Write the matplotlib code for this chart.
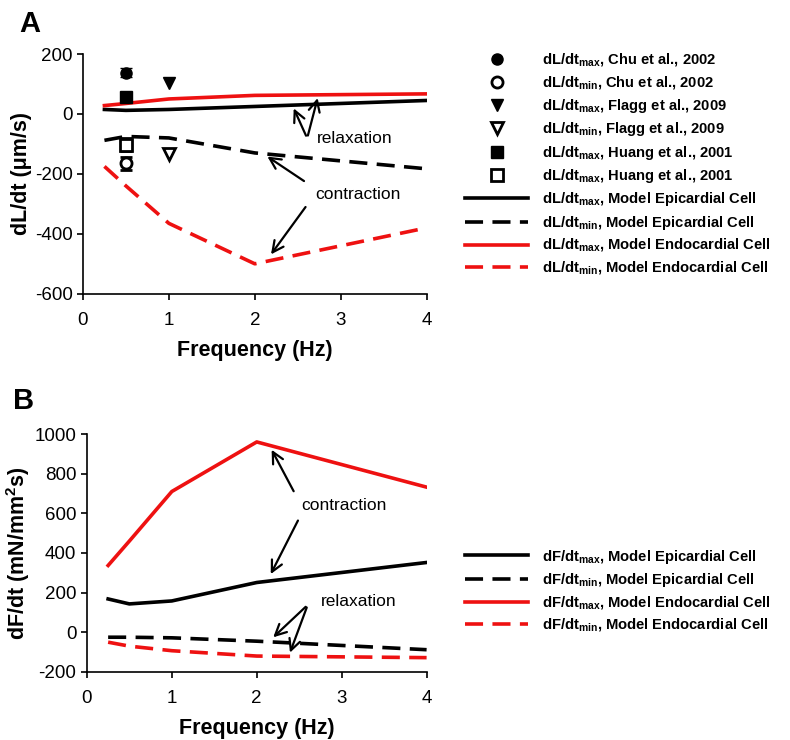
import numpy as np
import matplotlib
matplotlib.use("Agg")
import matplotlib.pyplot as plt
from matplotlib.lines import Line2D

plt.rcParams['font.family'] = ['Liberation Sans', 'DejaVu Sans']
plt.rcParams['mathtext.fontset'] = 'custom'
plt.rcParams['mathtext.rm'] = 'Liberation Sans:bold'
plt.rcParams['mathtext.bf'] = 'Liberation Sans:bold'
plt.rcParams['axes.unicode_minus'] = False

# ---- data, panel A (dL/dt, um/s)
freq = [0.25, 0.5, 1, 2, 4]
epi_dl_max = [15, 12, 15, 25, 45]
epi_dl_min = [-88, -75, -80, -130, -183]
endo_dl_max = [28, 35, 50, 62, 67]
endo_dl_min = [-175, -240, -365, -500, -380]

# experimental points
chu_max, chu_max_err = 138, 15
chu_min, chu_min_err = -164, 22
flagg_max = 102
flagg_min = -133
huang_max = 58
huang_min, huang_min_err = -103, 22

# ---- data, panel B (dF/dt, mN/mm^2 s)
epi_df_max = [168, 143, 158, 251, 352]
epi_df_min = [-25, -25, -28, -45, -88]
endo_df_max = [337, 460, 710, 960, 732]
endo_df_min = [-50, -70, -93, -120, -128]

DASH = (5, 2.6)
LW = 2.6

fig = plt.figure(figsize=(7.9, 7.4), dpi=100)
axA = fig.add_axes([0.105, 0.603, 0.435, 0.324])
axB = fig.add_axes([0.110, 0.092, 0.430, 0.3215])


def style(ax):
    ax.spines['top'].set_visible(False)
    ax.spines['right'].set_visible(False)
    ax.spines['left'].set_linewidth(1.2)
    ax.spines['bottom'].set_linewidth(1.2)
    ax.tick_params(direction='out', length=4, width=1.2, labelsize=13.5)
    ax.tick_params(axis='x', pad=9)
    ax.set_xlim(0, 4)
    ax.set_xticks([0, 1, 2, 3, 4])
    ax.set_xlabel('Frequency (Hz)', fontsize=15.5, fontweight='bold', labelpad=8)


# ---------------- panel A
axA.plot(freq, epi_dl_max, color='k', lw=LW)
axA.plot(freq, epi_dl_min, color='k', lw=LW, dashes=DASH)
axA.plot(freq, endo_dl_max, color='#ee1111', lw=LW)
axA.plot(freq, endo_dl_min, color='#ee1111', lw=LW, dashes=DASH)

ms = 8
axA.errorbar(0.5, chu_max, yerr=chu_max_err, fmt='o', color='k', ms=ms, capsize=4, elinewidth=1.5)
axA.errorbar(0.5, chu_min, yerr=chu_min_err, fmt='o', color='k', mfc='white', mew=2, ms=ms, capsize=4, elinewidth=1.5)
axA.plot(1, flagg_max, 'v', color='k', ms=ms + 1)
axA.plot(1, flagg_min, 'v', color='k', mfc='white', mew=2, ms=ms)
axA.plot(0.5, huang_max, 's', color='k', ms=ms)
axA.errorbar(0.5, huang_min, yerr=huang_min_err, fmt='s', color='k', mfc='white', mew=2, ms=ms, capsize=4, elinewidth=1.5)

axA.set_ylim(-600, 200)
axA.set_yticks([-600, -400, -200, 0, 200])
axA.set_ylabel('dL/dt (\u03bcm/s)', fontsize=15.5, fontweight='bold', labelpad=2)
style(axA)

aprops = dict(arrowstyle='->', color='k', lw=1.6, mutation_scale=20)
axA.text(2.72, -83, 'relaxation', fontsize=12.5, va='center')
axA.annotate('', xy=(2.44, 27), xytext=(2.61, -81), arrowprops=aprops)
axA.annotate('', xy=(2.74, 62), xytext=(2.61, -81), arrowprops=aprops)
axA.text(2.7, -270, 'contraction', fontsize=12.5, va='center')
axA.annotate('', xy=(2.12, -137), xytext=(2.6, -229), arrowprops=aprops)
axA.annotate('', xy=(2.17, -476), xytext=(2.61, -303), arrowprops=aprops)

fig.text(0.024, 0.987, 'A', fontsize=21, fontweight='bold', va='top')

handlesA = [
    Line2D([], [], ls='none', marker='o', color='k', ms=ms),
    Line2D([], [], ls='none', marker='o', color='k', mfc='white', mew=2, ms=ms),
    Line2D([], [], ls='none', marker='v', color='k', ms=ms + 1),
    Line2D([], [], ls='none', marker='v', color='k', mfc='white', mew=2, ms=ms),
    Line2D([], [], ls='none', marker='s', color='k', ms=ms),
    Line2D([], [], ls='none', marker='s', color='k', mfc='white', mew=2, ms=ms),
    Line2D([], [], color='k', lw=LW),
    Line2D([], [], color='k', lw=LW, dashes=DASH),
    Line2D([], [], color='#ee1111', lw=LW),
    Line2D([], [], color='#ee1111', lw=LW, dashes=DASH),
]
mx = r'$_{\mathbf{max}}$'
mn = r'$_{\mathbf{min}}$'
labelsA = [
    'dL/dt' + mx + ', Chu et al., 2002',
    'dL/dt' + mn + ', Chu et al., 2002',
    'dL/dt' + mx + ', Flagg et al., 2009',
    'dL/dt' + mn + ', Flagg et al., 2009',
    'dL/dt' + mx + ', Huang et al., 2001',
    'dL/dt' + mx + ', Huang et al., 2001',
    'dL/dt' + mx + ', Model Epicardial Cell',
    'dL/dt' + mn + ', Model Epicardial Cell',
    'dL/dt' + mx + ', Model Endocardial Cell',
    'dL/dt' + mn + ', Model Endocardial Cell',
]
leg_kw = dict(loc='upper left', frameon=False, handlelength=4.3, handletextpad=0.95,
              labelspacing=0.36, prop={'weight': 'bold', 'size': 10.6}, borderaxespad=0)
fig.legend(handlesA, labelsA, bbox_to_anchor=(0.581, 0.938), **leg_kw)

# ---------------- panel B
axB.plot(freq, epi_df_max, color='k', lw=LW)
axB.plot(freq, epi_df_min, color='k', lw=LW, dashes=DASH)
axB.plot(freq, endo_df_max, color='#ee1111', lw=LW)
axB.plot(freq, endo_df_min, color='#ee1111', lw=LW, dashes=DASH)
axB.set_ylim(-200, 1000)
axB.set_yticks([-200, 0, 200, 400, 600, 800, 1000])
axB.set_ylabel(r'dF/dt (mN/mm$^{\mathbf{2}}$s)', fontsize=15.5, fontweight='bold', labelpad=2)
style(axB)

axB.text(2.52, 640, 'contraction', fontsize=12.5, va='center')
axB.annotate('', xy=(2.16, 933), xytext=(2.45, 699), arrowprops=aprops)
axB.annotate('', xy=(2.15, 281), xytext=(2.5, 576), arrowprops=aprops)
axB.text(2.76, 155, 'relaxation', fontsize=12.5, va='center')
axB.annotate('', xy=(2.17, -35), xytext=(2.6, 138), arrowprops=aprops)
axB.annotate('', xy=(2.38, -116), xytext=(2.6, 138), arrowprops=aprops)

fig.text(0.017, 0.477, 'B', fontsize=21, fontweight='bold', va='top')

handlesB = handlesA[6:]
labelsB = [
    'dF/dt' + mx + ', Model Epicardial Cell',
    'dF/dt' + mn + ', Model Epicardial Cell',
    'dF/dt' + mx + ', Model Endocardial Cell',
    'dF/dt' + mn + ', Model Endocardial Cell',
]
fig.legend(handlesB, labelsB, bbox_to_anchor=(0.581, 0.268), **leg_kw)

fig.savefig('out.png', dpi=100)
